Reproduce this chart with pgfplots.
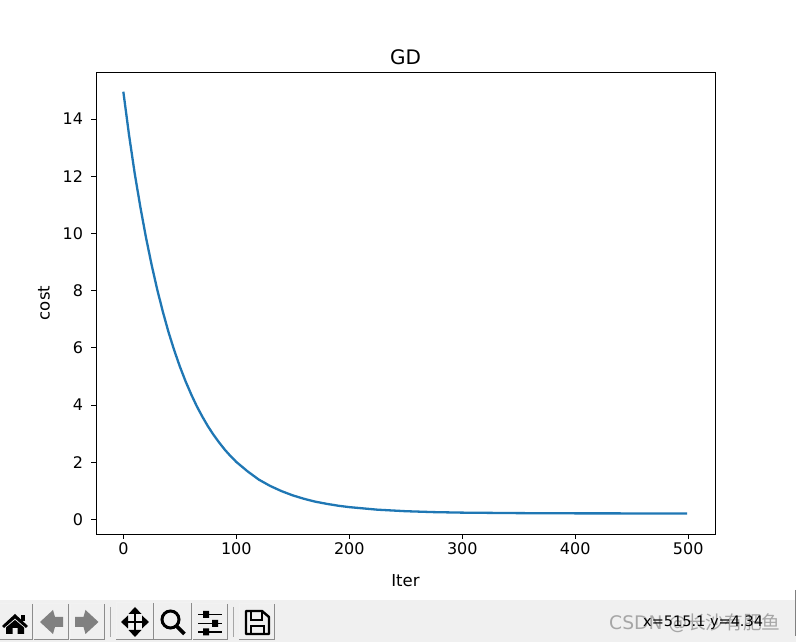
\documentclass[border=0pt]{standalone}
\usepackage{pgfplots}
\pgfplotsset{compat=1.18}
\usepackage{fontspec}
\setmainfont{DejaVu Sans}
\newfontfamily\cjk{Noto Sans CJK SC}
\definecolor{mplblue}{HTML}{1F77B4}
\definecolor{tbar}{HTML}{F0F0F0}
\newcommand{\btn}[4]{%
  \fill[tbar] (#1,#2) rectangle (#3,#4);
  \draw[white!95!black,line width=1pt] (#1,#4) -- (#1,#2) -- (#3,#2);
  \draw[black!45,line width=1pt] (#1,#4) -- (#3,#4) -- (#3,#2);
}
\begin{document}
\begin{tikzpicture}
\path[use as bounding box,fill=white] (0,0) rectangle (796pt,642pt);
\begin{axis}[
  at={(96pt,108pt)},anchor=south west,
  scale only axis,width=619pt,height=462pt,
  xmin=-24.2,xmax=523.7,ymin=-0.51,ymax=15.65,
  xtick={0,100,200,300,400,500},
  ytick={0,2,4,6,8,10,12,14},
  tick align=outside,
  major tick length=4.9pt,
  xtick pos=bottom,ytick pos=left,
  every tick/.style={black,line width=0.9pt},
  axis line style={line width=0.9pt},
  /pgf/number format/assume math mode=true,
  tick label style={font=\fontsize{16}{18}\selectfont},
  yticklabel style={xshift=-4.5pt},
  label style={font=\fontsize{16.5}{19}\selectfont},
  title style={font=\fontsize{20}{23}\selectfont,yshift=-2pt},
  title={GD},
  xlabel={Iter},ylabel={cost},
  xlabel style={yshift=-13pt},
  ylabel style={yshift=6pt},
  clip=false,
]
\addplot[color=mplblue,line width=2.3pt,line join=round] coordinates {
(0,14.96)(5,13.46)(10,12.12)(15,10.94)(20,9.87)(25,8.91)(30,8.04)(35,7.26)(40,6.55)(45,5.92)
(50,5.35)(55,4.84)(60,4.38)(65,3.96)(70,3.59)(75,3.25)(80,2.95)(85,2.68)(90,2.43)(95,2.21)
(100,2.01)(110,1.68)(120,1.39)(130,1.17)(140,0.99)(150,0.84)(160,0.72)(170,0.62)(180,0.545)
(190,0.48)(200,0.43)(225,0.34)(250,0.287)(275,0.255)(300,0.237)(350,0.22)(400,0.212)(450,0.21)(499,0.21)
};
\end{axis}
\begin{scope}[x=1pt,y=-1pt,yshift=642pt]
\fill[tbar] (0,600) rectangle (796,642);
\btn{-1}{604}{32}{640}
\btn{34}{604}{68}{640}
\btn{70}{604}{104}{640}
\btn{116}{603}{153}{640}
\btn{154}{603}{191}{640}
\btn{193}{604}{227}{640}
\btn{239}{604}{274}{640}
\draw[black!35,line width=1pt] (110,607)--(110,637);
\draw[black!35,line width=1pt] (233,607)--(233,637);
% home
\fill[black] (15,614)--(28,626)--(26,628)--(15,618.5)--(4,628)--(2,626)--cycle;
\fill[black] (21,615.5) rectangle (24.5,621);
\fill[black] (6,627.5)--(15,620)--(24,627.5)--(24,634)--(17.5,634)--(17.5,628)--(12.5,628)--(12.5,634)--(6,634)--cycle;
% back / forward
\fill[black!50] (40,622)--(53,610)--(55,617)--(63,617)--(63,627)--(55,627)--(53,634)--cycle;
\fill[black!50] (98.5,622)--(85.5,610)--(83.5,617)--(75,617)--(75,627)--(83.5,627)--(85.5,634)--cycle;
% move
\draw[black,line width=2.6pt] (122,622)--(148,622) (135,608)--(135,636);
\fill[black] (121,622)--(128,615.5)--(128,628.5)--cycle (149,622)--(142,615.5)--(142,628.5)--cycle
 (135,607)--(128.5,614)--(141.5,614)--cycle (135,637)--(128.5,630)--(141.5,630)--cycle;
% zoom
\draw[black,line width=3pt] (170.5,619.5) circle (8.5);
\draw[black,line width=3.6pt] (176.5,626)--(184.5,634);
% sliders
\draw[black,line width=1.6pt] (198,614.5)--(222,614.5) (198,623.5)--(222,623.5) (198,632)--(222,632);
\fill[black] (203,611) rectangle (209,618) (212,620) rectangle (218,627) (203,628.5) rectangle (209,635.5);
% save
\draw[black,line width=2.4pt,line join=round] (246,611)--(262,611)--(269,617)--(269,634)--(246,634)--cycle;
\draw[black,line width=2.2pt] (251,611)--(251,620)--(262,620)--(262,611) (251,634)--(251,626)--(264,626)--(264,634);
% status
\node[anchor=west,text=black!35,font=\fontsize{18.7}{21}\selectfont,inner sep=0pt] at (609,623) {CSDN @{\cjk 长沙有肥鱼}};
\node[anchor=west,text=black,font=\fontsize{14.5}{16}\selectfont,inner sep=0pt] at (643,623) {x=515.1 y=4.34};
\draw[black!50,line width=1pt] (795.5,590)--(795.5,636);
\end{scope}
\end{tikzpicture}
\end{document}
